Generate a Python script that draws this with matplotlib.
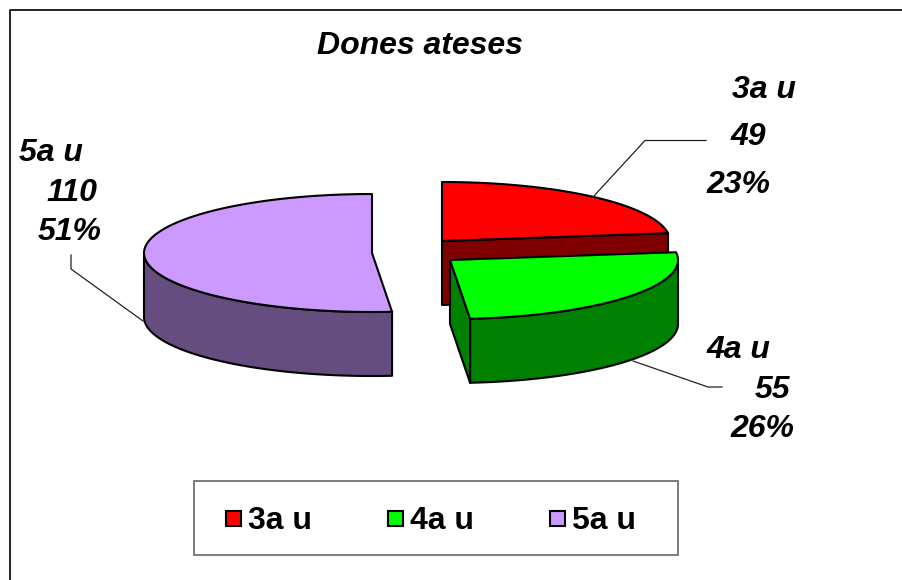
import numpy as np
import matplotlib
matplotlib.use("Agg")
import matplotlib.pyplot as plt
from matplotlib.patches import Polygon, Rectangle

title = "Dones ateses"
categories = ["3a u", "4a u", "5a u"]
values = [49, 55, 110]
percents = ["23%", "26%", "51%"]

top_colors = ["#ff0000", "#00ff00", "#cc99ff"]
side_colors = ["#800000", "#008000", "#664d80"]

plt.rcParams["font.family"] = ["Liberation Sans", "DejaVu Sans"]

fig = plt.figure(figsize=(9.02, 5.8), dpi=100)
ax = fig.add_axes([0, 0, 1, 1])
ax.set_xlim(0, 902)
ax.set_ylim(580, 0)
ax.axis("off")

# frame, only top and left show in the picture
ax.plot([9.5, 9.5, 902], [580, 9.5, 9.5], color="black", lw=1.2)

# pie geometry, pixel positions of each exploded slice
centers = [(442, 241), (450, 260), (372, 253)]
rx, ry, depth = 228, 59, 64


def rim(cx, cy, a0, a1):
    t = np.linspace(a0, a1, 80)
    return cx + rx * np.sin(t), cy - ry * np.cos(t)


def side(x, y):
    return np.r_[np.c_[x, y], np.c_[x[::-1], y[::-1] + depth]]


fracs = np.array(values) / sum(values)
edges = np.r_[0, np.cumsum(fracs)] * 2 * np.pi

for i in [2, 0, 1]:
    cx, cy = centers[i]
    a0, a1 = edges[i], edges[i + 1]
    x, y = rim(cx, cy, a0, a1)
    kw = dict(ec="black", lw=1.5, joinstyle="round")

    # front wall of the rim, only the part facing the viewer
    lo, hi = max(a0, np.pi / 2), min(a1, 3 * np.pi / 2)
    if lo < hi:
        wx, wy = rim(cx, cy, lo, hi)
        ax.add_patch(Polygon(side(wx, wy), fc=side_colors[i], **kw))

    # cut faces
    if i in (0, 1):
        ax.add_patch(Polygon(side(np.array([cx, x[-1]]), np.array([cy, y[-1]])),
                             fc=side_colors[i], **kw))

    ax.add_patch(Polygon(np.r_[[[cx, cy]], np.c_[x, y]], fc=top_colors[i], **kw))

# leader lines
ax.plot([593, 645, 706], [197, 140.5, 140.5], color="#222222", lw=0.9)
ax.plot([633, 708, 722], [361, 387, 387], color="#222222", lw=0.9)
ax.plot([143, 71, 71], [321, 269, 255], color="#222222", lw=0.9)

font = dict(fontsize=23, fontweight="bold", fontstyle="italic", color="black",
            ha="left", va="center")
ax.text(420, 46, title, ha="center", va="center", fontsize=23,
        fontweight="bold", fontstyle="italic")

ax.text(732, 90, categories[0], **font)
ax.text(731, 137, str(values[0]), **font)
ax.text(706, 185, percents[0], **font)

ax.text(707, 350, categories[1], **font)
ax.text(755, 390, str(values[1]), **font)
ax.text(731, 429, percents[1], **font)

ax.text(19, 153, categories[2], **font)
ax.text(46, 193, str(values[2]), **font)
ax.text(38, 232, percents[2], **font)

# legend
ax.add_patch(Rectangle((193.5, 480.5), 484, 74, fc="white", ec="#666666", lw=1.2))
for i, lx in enumerate([225.5, 387.5, 549.5]):
    ax.add_patch(Rectangle((lx, 510.5), 15, 15, fc=top_colors[i], ec="black", lw=1.5))
    ax.text(lx + 23, 521, categories[i], fontsize=23, fontweight="bold",
            ha="left", va="center")

fig.savefig("out.png", dpi=100)
